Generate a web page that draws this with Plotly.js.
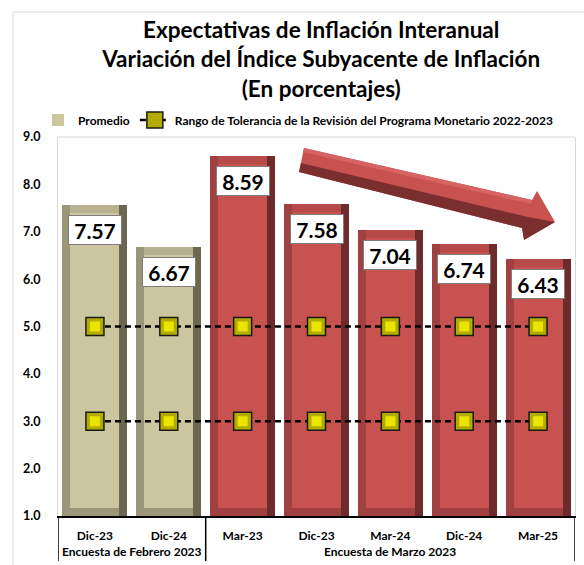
<!DOCTYPE html>
<html>
<head>
<meta charset="utf-8">
<script src="https://cdn.plot.ly/plotly-3.0.1.min.js"></script>
<style>html,body{margin:0;padding:0;background:#fff;}#chart{width:584px;height:565px;}</style>
</head>
<body>
<div id="chart"></div>
<script>
// ---- data ----
const groups = ['Encuesta de Febrero 2023','Encuesta de Febrero 2023','Encuesta de Marzo 2023','Encuesta de Marzo 2023','Encuesta de Marzo 2023','Encuesta de Marzo 2023','Encuesta de Marzo 2023'];
const periods = ['Dic-23','Dic-24','Mar-23','Dic-23','Mar-24','Dic-24','Mar-25'];
const promedio = [7.57, 6.67, 8.59, 7.58, 7.04, 6.74, 6.43];
const tolSup = [5, 5, 5, 5, 5, 5, 5];
const tolInf = [3, 3, 3, 3, 3, 3, 3];
const titleLines = ['Expectativas de Inflación Interanual','Variación del Índice Subyacente de Inflación','(En porcentajes)'];
const serieNames = ['Promedio','Rango de Tolerancia de la Revisión del Programa Monetario 2022-2023'];

// ---- styling ----
const FONT = 'Lato, "Open Sans", sans-serif';
const tan = {face:'#cbc6a0', left:'#9c9679', right:'#6b6750', top:'#b7b18f'};
const red = {face:'#c85250', left:'#a04040', right:'#6d2b2b', top:'#b64a48'};
const pal = groups.map(g => g === groups[0] ? tan : red);
const xs = periods.map((_, i) => i);
const BASE = 1;
const W = 0.88, S = 0.108, V = 0.17;

function barLayer(col, width, offset, base, top, show, name) {
  return {
    type:'bar', x:xs, base: promedio.map(()=>base), y: promedio.map(v => top(v) - base),
    width: width, offset: offset,
    marker:{color: pal.map(p => p[col]), line:{width:0}},
    showlegend: !!show, name: name || '', hoverinfo:'skip'
  };
}

function tolTrace(vals, show) {
  return [
    {type:'scatter', mode:'lines+markers', x:xs, y:vals, name:serieNames[1], showlegend:show,
     line:{color:'#000', width:2.5, dash:'6px,4px'},
     marker:{symbol:'square', size:18, color:'#b3ac00', line:{color:'#1a1a1a', width:1.5}}, hoverinfo:'skip'},
    {type:'scatter', mode:'markers', x:xs, y:vals, showlegend:false,
     marker:{symbol:'square', size:10, color:'#ebe400', line:{width:0}}, hoverinfo:'skip'}
  ];
}

const traces = [
  barLayer('right', W, -W/2, BASE, v => v),
  barLayer('left', W - S, -W/2, BASE, v => v),
  barLayer('top', W - 2*S, -W/2 + S, BASE + V, v => v),
  barLayer('face', W - 2*S, -W/2 + S, BASE + V, v => v - V, true, serieNames[0]),
  ...tolTrace(tolSup, true),
  ...tolTrace(tolInf, false)
];

// Plot box in pixels (for decoration placement)
const PL = 58, PR = 575, PT = 137, PB = 516;
const px = v => (v - PL) / (PR - PL);
const py = v => (PB - v) / (PB - PT);
function path(pts){ return 'M' + pts.map(p => px(p[0]).toFixed(4)+','+py(p[1]).toFixed(4)).join(' L') + ' Z'; }

const arrowMain = [[304,148],[532,200],[537,191],[555,222],[524,240],[522,228],[299,172]];
const arrowDark = [[299,172],[301,163],[528,217],[555,222],[524,240],[522,228]];
const arrowHi = [[304,148],[532,200],[531,204],[303,152]];

const annotations = promedio.map((v,i) => ({
  x:i, y:v, xref:'x', yref:'y', text:'<b>'+v.toFixed(2)+'</b>', showarrow:false,
  yshift:-25, bgcolor:'#fff', bordercolor:'#7f7f7f', borderwidth:1, borderpad:1,
  width:50, height:26, font:{family:FONT, size:21, color:'#000'}
}));

// group spans (from groups array)
const spans = [];
groups.forEach((g, i) => {
  if (!spans.length || spans[spans.length-1].name !== g) spans.push({name:g, start:i, end:i});
  else spans[spans.length-1].end = i;
});
const dividerShapes = [];
spans.forEach((s, k) => {
  annotations.push({x:(s.start + s.end)/2, xref:'x', y:py(551), yref:'paper', yanchor:'middle',
    text:'<b>'+s.name+'</b>', showarrow:false, font:{family:FONT, size:12, color:'#000'}});
  const edges = k === 0 ? [s.start - 0.5, s.end + 0.5] : [s.end + 0.5];
  edges.forEach(e => dividerShapes.push({type:'line', xref:'x', yref:'paper', x0:e, x1:e, y0:0, y1:py(561),
    line:{color:'#000', width:1.5}}));
});

const layout = {
  width:584, height:565,
  margin:{l:PL, r:584-PR, t:PT, b:565-PB, autoexpand:false},
  paper_bgcolor:'#fff', plot_bgcolor:'#fff',
  font:{family:FONT, color:'#000'},
  title:{text:'<b>'+titleLines.join('<br>')+'</b>', xref:'container', x:0.55, xanchor:'center',
         yref:'container', y:1-38/565, yanchor:'top', font:{family:FONT, size:22.5, color:'#000'}},
  barmode:'overlay', bargap:0,
  showlegend:true,
  legend:{orientation:'h', xref:'container', x:38/584, xanchor:'left', yref:'container', y:1-120/565, yanchor:'middle',
          font:{family:FONT, size:12, color:'#000', weight:'bold'}, traceorder:'normal', itemwidth:30, tracegroupgap:0, bgcolor:'rgba(0,0,0,0)'},
  xaxis:{range:[-0.5,6.5], showgrid:false, zeroline:false, tickmode:'array', tickvals:xs, ticktext:periods,
         showline:true, linecolor:'#000', linewidth:1.5, ticks:'', ticklabelstandoff:8,
         tickfont:{family:FONT, size:12, color:'#000', weight:'bold'}},
  yaxis:{range:[1,9], dtick:1, tick0:1, tickformat:'.1f', showgrid:false, zeroline:false,
         showline:true, linecolor:'#d9d9d9', linewidth:1, mirror:true, ticks:'', ticklabelstandoff:14,
         tickfont:{family:FONT, size:12.5, color:'#000', weight:'bold'}},
  shapes:[
    {type:'rect', xref:'paper', yref:'paper', x0:px(13), x1:px(600), y0:py(580), y1:py(12), line:{color:'#d9d9d9', width:1}, layer:'below'},
    {type:'line', xref:'paper', yref:'paper', x0:0, x1:1, y0:1, y1:1, line:{color:'#d9d9d9', width:1}},
    {type:'path', xref:'paper', yref:'paper', path:path(arrowMain), fillcolor:'#c85250', line:{width:0}},
    {type:'path', xref:'paper', yref:'paper', path:path(arrowDark), fillcolor:'#7a2e2e', line:{width:0}},
    {type:'path', xref:'paper', yref:'paper', path:path(arrowHi), fillcolor:'#d56462', line:{width:0}},
    ...dividerShapes
  ],
  annotations:annotations
};

Plotly.newPlot('chart', traces, layout, {displayModeBar:false, staticPlot:true});
</script>
</body>
</html>
